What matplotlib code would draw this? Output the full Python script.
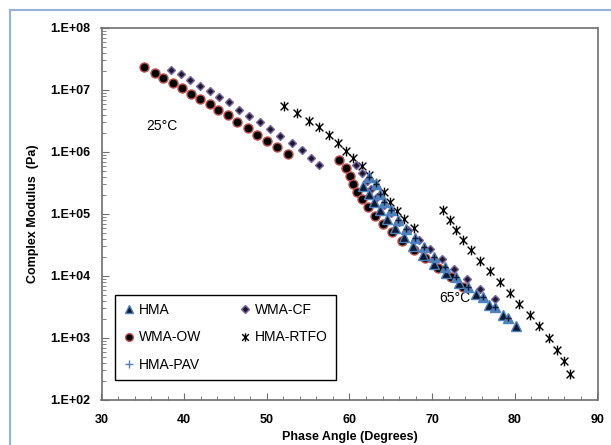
import numpy as np
import matplotlib
matplotlib.use("Agg")
import matplotlib.pyplot as plt
from matplotlib.path import Path
from matplotlib.lines import Line2D
from matplotlib.ticker import FixedLocator, MultipleLocator, LogLocator, FuncFormatter, NullFormatter

plt.rcParams['font.family'] = ['Liberation Sans', 'DejaVu Sans']

# ---------------- data ----------------
# HMA (65°C branch)
hma_x = [61.64, 62.36, 62.97, 63.70, 64.55, 65.52, 66.61, 67.70, 68.91, 70.24, 71.70, 73.27, 75.33, 76.91, 78.61, 80.18]
hma_y = [2.88e5, 2.14e5, 1.59e5, 1.18e5, 8.43e4, 6.03e4, 4.31e4, 3.08e4, 2.20e4, 1.57e4, 1.13e4, 7.76e3, 5.06e3, 3.46e3, 2.33e3, 1.56e3]

# HMA-PAV
pav_x = [62.36, 63.21, 63.70, 64.18, 65.03, 65.88, 66.85, 67.94, 69.03, 70.24, 71.58, 72.91, 74.36, 76.18, 77.64, 79.21]
pav_y = [3.88e5, 3.10e5, 2.14e5, 1.59e5, 1.14e5, 8.11e4, 5.81e4, 4.15e4, 2.96e4, 2.05e4, 1.41e4, 9.70e3, 6.68e3, 4.60e3, 3.18e3, 2.11e3]

# WMA-OW (25°C and 65°C)
ow_x = [35.2, 36.5, 37.4, 38.6, 39.7, 40.8, 41.9, 43.1, 44.1, 45.3, 46.4, 47.7, 48.8, 50.0, 51.2, 52.6,
        58.76, 59.58, 60.06, 60.46, 60.95, 61.55, 62.24, 63.05, 64.02, 65.15, 66.33, 67.76, 69.15, 70.76, 72.22, 73.67]
ow_y = [2.34e7, 1.91e7, 1.55e7, 1.29e7, 1.07e7, 8.7e6, 7.2e6, 5.9e6, 4.8e6, 3.9e6, 3.1e6, 2.45e6, 1.91e6, 1.51e6, 1.20e6, 9.3e5,
        7.31e5, 5.43e5, 4.14e5, 3.07e5, 2.30e5, 1.74e5, 1.28e5, 9.42e4, 6.93e4, 5.06e4, 3.72e4, 2.67e4, 1.92e4, 1.37e4, 9.59e3, 6.68e3]

# WMA-CF (25°C and 65°C)
cf_x = [38.4, 39.6, 40.7, 41.9, 43.1, 44.2, 45.4, 46.6, 47.9, 49.2, 50.4, 51.6, 53.0, 54.2, 55.4, 56.3,
        60.79, 61.55, 62.08, 62.61, 63.37, 64.18, 64.97, 66.02, 67.13, 68.40, 69.72, 71.18, 72.67, 74.21, 75.73, 77.55]
cf_y = [2.14e7, 1.78e7, 1.45e7, 1.17e7, 9.8e6, 7.8e6, 6.3e6, 4.8e6, 3.8e6, 3.0e6, 2.34e6, 1.82e6, 1.41e6, 1.07e6, 8.1e5, 6.2e5,
        6.22e5, 4.56e5, 3.44e5, 2.55e5, 1.91e5, 1.42e5, 1.05e5, 7.45e4, 5.45e4, 3.85e4, 2.72e4, 1.87e4, 1.31e4, 8.91e3, 6.14e3, 4.23e3]

# HMA-RTFO (25°C and 65°C)
rtfo_x = [52.06, 53.67, 55.09, 56.27, 57.52, 58.61, 59.58, 60.46, 61.48, 62.39, 63.21, 64.12, 64.95, 65.76, 66.57, 67.79,
          71.30, 72.18, 72.87, 73.72, 74.73, 75.82, 76.95, 78.16, 79.37, 80.55, 81.79, 82.93, 84.10, 85.12, 85.92, 86.73]
rtfo_y = [5.61e6, 4.26e6, 3.21e6, 2.50e6, 1.87e6, 1.39e6, 1.05e6, 7.87e5, 5.85e5, 4.30e5, 3.13e5, 2.28e5, 1.59e5, 1.13e5, 8.20e4, 5.87e4,
          1.14e5, 8.04e4, 5.53e4, 3.81e4, 2.62e4, 1.76e4, 1.20e4, 8.05e3, 5.41e3, 3.59e3, 2.38e3, 1.55e3, 1.01e3, 6.52e2, 4.22e2, 2.64e2]

x_ticks = [30, 40, 50, 60, 70, 80, 90]
y_ticks = [1e2, 1e3, 1e4, 1e5, 1e6, 1e7, 1e8]

# ---------------- figure ----------------
W, H = 611, 445
fig = plt.figure(figsize=(W / 100, H / 100), dpi=100)
ax = fig.add_axes([101.5 / W, 1 - 400 / H, (597.5 - 101.5) / W, (400 - 28) / H])

star = Path([(0, -1), (0, 1), (-0.8, -0.8), (0.8, 0.8), (-0.8, 0.8), (0.8, -0.8)],
            [Path.MOVETO, Path.LINETO, Path.MOVETO, Path.LINETO, Path.MOVETO, Path.LINETO])

ax.plot(rtfo_x, rtfo_y, ls='none', marker=star, ms=7, mec='black', mew=1.0, zorder=3)
ax.plot(ow_x, ow_y, ls='none', marker='o', ms=6.5, mfc='black', mec='#C0504D', mew=1.0, zorder=4)
ax.plot(cf_x, cf_y, ls='none', marker='D', ms=4.5, mfc='#1a1a2e', mec='#8064A2', mew=1.0, zorder=5)
ax.plot(hma_x, hma_y, ls='none', marker='^', ms=6.5, mfc='#0d1a33', mec='#4F81BD', mew=1.0, zorder=6)
ax.plot(pav_x, pav_y, ls='none', marker='^', ms=6.5, mfc='#4F81BD', mec='#4F81BD', mew=1.0, zorder=6)
ax.plot(pav_x, pav_y, ls='none', marker='+', ms=4, mec='#0d1a33', mew=1.0, zorder=7)

ax.set_yscale('log')
ax.set_xlim(30, 90)
ax.set_ylim(1e2, 1e8)
ax.xaxis.set_major_locator(FixedLocator(x_ticks))
ax.xaxis.set_minor_locator(MultipleLocator(2))
ax.yaxis.set_major_locator(FixedLocator(y_ticks))
ax.yaxis.set_minor_locator(LogLocator(base=10, subs=np.arange(2, 10)))
ax.yaxis.set_minor_formatter(NullFormatter())
ax.yaxis.set_major_formatter(FuncFormatter(lambda v, p: "1.E+%02d" % int(round(np.log10(v)))))

for s in ax.spines.values():
    s.set_color('#6e6e6e')
    s.set_linewidth(1.2)
ax.tick_params(which='both', direction='in', colors='#6e6e6e', labelcolor='black')
ax.tick_params(which='major', length=5, width=0.8, labelsize=9)
ax.tick_params(which='minor', length=3, width=0.6)
ax.tick_params(axis='x', which='major', pad=10)
ax.tick_params(axis='y', which='major', pad=8)
for lab in ax.get_xticklabels() + ax.get_yticklabels():
    lab.set_fontweight('bold')

ax.set_xlabel('Phase Angle (Degrees)', fontsize=9, fontweight='bold', labelpad=4)
ax.set_ylabel('Complex Modulus  (Pa)', fontsize=9, fontweight='bold', labelpad=8)

ax.text(162 / W, 1 - 126 / H, '25°C', transform=fig.transFigure, fontsize=10, ha='center', va='center')
ax.text(455 / W, 1 - 298 / H, '65°C', transform=fig.transFigure, fontsize=10, ha='center', va='center')

h_hma = Line2D([], [], ls='none', marker='^', ms=5.5, mfc='#0d1a33', mec='#4F81BD', mew=1.0)
h_ow = Line2D([], [], ls='none', marker='o', ms=5.5, mfc='black', mec='#C0504D', mew=1.0)
h_pav = Line2D([], [], ls='none', marker='+', ms=6, mec='#4F81BD', mew=1.0)
h_cf = Line2D([], [], ls='none', marker='D', ms=4, mfc='#1a1a2e', mec='#8064A2', mew=1.0)
h_rt = Line2D([], [], ls='none', marker=star, ms=6, mec='black', mew=1.0)
leg = ax.legend([h_hma, h_ow, h_pav, h_cf, h_rt], ['HMA', 'WMA-OW', 'HMA-PAV', 'WMA-CF', 'HMA-RTFO'],
                ncol=2, loc='lower left', bbox_to_anchor=(115 / W, 1 - 380 / H), bbox_transform=fig.transFigure,
                fontsize=10, frameon=True, fancybox=False, edgecolor='black', framealpha=1,
                handlelength=0.8, handletextpad=0.3, columnspacing=2.8, labelspacing=0.95,
                borderpad=0.6, borderaxespad=0)
leg.get_frame().set_linewidth(1.0)

# outer chart border (light blue)
fig.add_artist(Line2D([10 / W, 10 / W], [0, 1 - 10 / H], transform=fig.transFigure, color='#95B3D7', lw=1.5))
fig.add_artist(Line2D([10 / W, 1], [1 - 10 / H, 1 - 10 / H], transform=fig.transFigure, color='#95B3D7', lw=1.5))

fig.savefig('out.png', dpi=100)
